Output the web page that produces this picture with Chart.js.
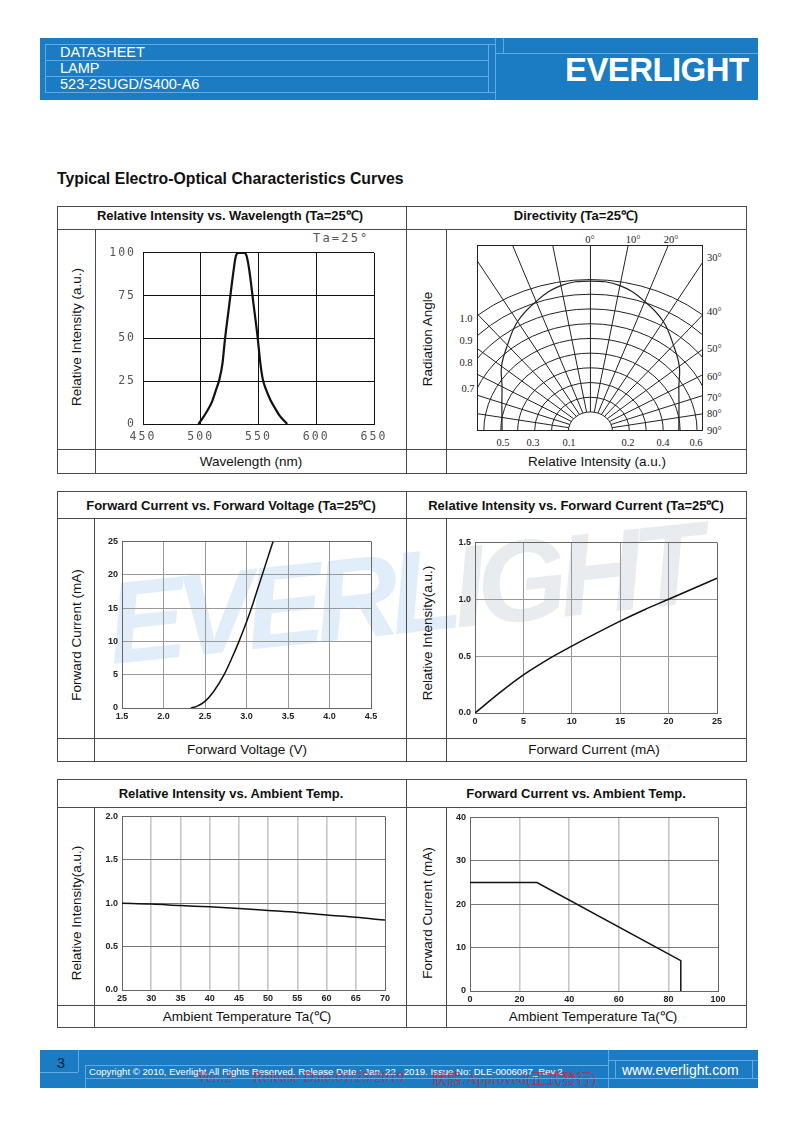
<!DOCTYPE html>
<html>
<head>
<meta charset="utf-8">
<title>523-2SUGD/S400-A6 - Typical Electro-Optical Characteristics Curves</title>
<script src="https://cdn.jsdelivr.net/npm/chart.js@4.4.1/dist/chart.umd.min.js"></script>
<style>
  html, body { margin: 0; padding: 0; background: #fff; }
  #page { position: relative; width: 794px; height: 1123px; overflow: hidden;
          font-family: "Liberation Sans", Arial, sans-serif; color: #111; }
  .t  { position: absolute; white-space: nowrap; transform: translate(-50%, -50%); }
  .l  { position: absolute; white-space: nowrap; transform: translateY(-50%); }
  .v  { position: absolute; white-space: nowrap; transform: translate(-50%, -50%) rotate(-90deg); font-size: 13.5px; }
  .h  { font-size: 13px; font-weight: bold; }
  .x  { font-size: 13.5px; }
  .d  { font-family: "Liberation Serif", serif; font-size: 10.5px; color: #222; }
  .ln { position: absolute; background: #4a4a4a; }
  .bl { position: absolute; background: #62aae0; }
  .band { position: absolute; background: #1b7cc4; }
  .box { position: absolute; }
  .wh { color: #fff; }
  .red { font-family: "Liberation Serif", "Noto Sans CJK TC", serif; font-size: 15px; color: rgba(196, 40, 64, 0.78); }
</style>
</head>
<body>
<div id="page">

  <!-- watermark -->
  <div id="wm" style="position:absolute;left:112px;top:566px;font-size:116px;font-weight:bold;font-style:italic;line-height:1;letter-spacing:-8px;transform-origin:0 98px;transform:rotate(-6deg);white-space:nowrap;">
    <span style="color:#e1edf8">EVERL</span><span style="color:#e9ecee">IGHT</span>
  </div>

  <!-- header -->
  <div class="band" style="left:40px;top:38px;width:718px;height:62px"></div>
  <div class="l wh" style="left:60px;top:52px;font-size:14.5px">DATASHEET</div>
  <div class="l wh" style="left:60px;top:68px;font-size:14.5px">LAMP</div>
  <div class="l wh" style="left:60px;top:84px;font-size:14.5px">523-2SUGD/S400-A6</div>
  <div class="l wh" style="left:565px;top:70px;font-size:33px;font-weight:bold;letter-spacing:-0.6px">EVERLIGHT</div>

  <div class="l" style="left:57px;top:179px;font-size:15.8px;font-weight:bold">Typical Electro-Optical Characteristics Curves</div>

  <!-- row 1 -->
  <div class="t h" style="left:230px;top:215px">Relative Intensity vs. Wavelength (Ta=25℃)</div>
  <div class="t h" style="left:576px;top:215px">Directivity (Ta=25℃)</div>
  <div class="v" style="left:76px;top:337px">Relative Intensity (a.u.)</div>
  <div class="v" style="left:427px;top:339px">Radiation Angle</div>
  <div class="t x" style="left:251px;top:461px">Wavelength (nm)</div>
  <div class="t x" style="left:597px;top:461px">Relative Intensity (a.u.)</div>
  <div class="l" style="left:313px;top:238px;font-family:'DejaVu Sans Mono',monospace;font-size:12px;letter-spacing:2.2px;color:#555">Ta=25°</div>

  <div class="box"><canvas id="cWave"></canvas></div>
  <div class="box"><canvas id="cDir"></canvas></div>

  <!-- directivity labels -->
  <div class="t d" style="left:590px;top:239px">0°</div>
  <div class="t d" style="left:633px;top:239px">10°</div>
  <div class="t d" style="left:671px;top:239px">20°</div>
  <div class="l d" style="left:707px;top:257px">30°</div>
  <div class="l d" style="left:707px;top:311px">40°</div>
  <div class="l d" style="left:707px;top:348px">50°</div>
  <div class="l d" style="left:707px;top:376px">60°</div>
  <div class="l d" style="left:707px;top:397px">70°</div>
  <div class="l d" style="left:707px;top:413px">80°</div>
  <div class="l d" style="left:707px;top:430px">90°</div>
  <div class="t d" style="left:466px;top:318px">1.0</div>
  <div class="t d" style="left:466px;top:340px">0.9</div>
  <div class="t d" style="left:466px;top:362px">0.8</div>
  <div class="t d" style="left:468px;top:388px">0.7</div>
  <div class="t d" style="left:503px;top:442px">0.5</div>
  <div class="t d" style="left:533px;top:442px">0.3</div>
  <div class="t d" style="left:569px;top:442px">0.1</div>
  <div class="t d" style="left:628px;top:442px">0.2</div>
  <div class="t d" style="left:663px;top:442px">0.4</div>
  <div class="t d" style="left:696px;top:442px">0.6</div>

  <!-- row 2 -->
  <div class="t h" style="left:231px;top:505px">Forward Current vs. Forward Voltage (Ta=25℃)</div>
  <div class="t h" style="left:576px;top:505px">Relative Intensity vs. Forward Current (Ta=25℃)</div>
  <div class="v" style="left:76px;top:635px">Forward Current (mA)</div>
  <div class="v" style="left:427px;top:633px">Relative Intensity(a.u.)</div>
  <div class="t x" style="left:247px;top:749px">Forward Voltage (V)</div>
  <div class="t x" style="left:594px;top:749px">Forward Current (mA)</div>
  <div class="box"><canvas id="cFV"></canvas></div>
  <div class="box"><canvas id="cRI"></canvas></div>

  <!-- row 3 -->
  <div class="t h" style="left:231px;top:793px">Relative Intensity vs. Ambient Temp.</div>
  <div class="t h" style="left:576px;top:793px">Forward Current vs. Ambient Temp.</div>
  <div class="v" style="left:76px;top:913px">Relative Intensity(a.u.)</div>
  <div class="v" style="left:427px;top:913px">Forward Current (mA)</div>
  <div class="t x" style="left:247px;top:1016px">Ambient Temperature Ta(℃)</div>
  <div class="t x" style="left:593px;top:1016px">Ambient Temperature Ta(℃)</div>
  <div class="box"><canvas id="cTa"></canvas></div>
  <div class="box"><canvas id="cIF"></canvas></div>

  <!-- footer -->
  <div class="band" style="left:40px;top:1050px;width:718px;height:38px"></div>
  <div class="t" style="left:61px;top:1062px;font-size:15px;color:#10223a">3</div>
  <div class="l wh" style="left:89px;top:1071px;font-size:9.6px">Copyright © 2010, Everlight All Rights Reserved. Release Date : Jan. 22 . 2019. Issue No: DLE-0006087_Rev.2</div>
  <div class="l red" style="left:197px;top:1077px">Ver.:2</div>
  <div class="l red" style="left:253px;top:1077px">Release Date:01/23/2019</div>
  <div class="l red" style="left:432px;top:1077px">狀態:Approved(正式發行)</div>
  <div class="l wh" style="left:622px;top:1070px;font-size:14px">www.everlight.com</div>
</div>

<script>
/* --------------------------
   DATA
-------------------------- */

// Relative intensity vs wavelength
const wlNm  = [498, 501.4, 505.8, 509.5, 513, 515.9, 518.8, 520.8, 524.6, 528.1, 530.4, 532.7, 537.7, 539.7, 542, 545.5, 549.3, 551.3, 553.6, 556.5, 560, 563.8, 568.1, 574.8];
const wlRel = [0, 3.2, 7.9, 12.6, 19.5, 25.5, 35.3, 48.5, 69.2, 88.1, 98.2, 100, 100, 98.2, 90, 71.1, 50.4, 37.2, 26.5, 20.2, 14.5, 9.8, 5.1, 0];
const wlTicksX = [450, 500, 550, 600, 650];
const wlTicksY = [0, 25, 50, 75, 100];

// Directivity (angle from axis, relative radius)
const dirAngles    = [-90, -80, -70, -60, -50, -40, -30, -20, -10, 0, 10, 20, 30, 40, 50, 60, 70, 80, 90];
const dirIntensity = [0.506, 0.515, 0.54, 0.585, 0.665, 0.74, 0.835, 0.91, 0.975, 0.99, 0.975, 0.91, 0.835, 0.74, 0.665, 0.585, 0.54, 0.515, 0.506];
const dirRings  = [0.126, 0.223, 0.32, 0.417, 0.514, 0.611, 0.708, 0.806, 0.903, 1.0];
const dirSpokes = [-90, -80, -70, -60, -50, -40, -30, -20, -10, 0, 10, 20, 30, 40, 50, 60, 70, 80, 90];

// Forward current vs forward voltage
const fvVolt = [2.33, 2.40, 2.50, 2.60, 2.73, 2.82, 2.91, 3.00, 3.06, 3.13, 3.19, 3.255, 3.32];
const fvCurr = [0, 0.25, 1.0, 2.4, 5, 7.4, 10, 12.9, 15, 17.7, 20, 22.5, 25];
const fvTicksX = [1.5, 2.0, 2.5, 3.0, 3.5, 4.0, 4.5];
const fvTicksY = [0, 5, 10, 15, 20, 25];

// Relative intensity vs forward current
const riCurr = [0, 2.5, 5, 7.5, 10, 12.5, 15, 17.5, 20, 22.5, 25];
const riRel  = [0, 0.175, 0.335, 0.47, 0.588, 0.70, 0.808, 0.908, 1.0, 1.093, 1.185];
const riTicksX = [0, 5, 10, 15, 20, 25];
const riTicksY = [0, 0.5, 1.0, 1.5];

// Relative intensity vs ambient temperature
const taTemp = [25, 30, 35, 40, 45, 50, 55, 60, 65, 70];
const taRel  = [1.0, 0.99, 0.973, 0.958, 0.94, 0.917, 0.894, 0.864, 0.838, 0.805];
const taTicksX = [25, 30, 35, 40, 45, 50, 55, 60, 65, 70];
const taTicksY = [0, 0.5, 1.0, 1.5, 2.0];

// Forward current derating vs ambient temperature
const ifTemp = [0, 27, 85, 85];
const ifCurr = [25, 25, 7, 0];
const ifTicksX = [0, 20, 40, 60, 80, 100];
const ifTicksY = [0, 10, 20, 30, 40];

/* --------------------------
   TABLE + HEADER LINES
-------------------------- */
const page = document.getElementById("page");

function line(cls, x, y, w, h) {
    const d = document.createElement("div");
    d.className = cls;
    d.style.left = x + "px";
    d.style.top = y + "px";
    d.style.width = w + "px";
    d.style.height = h + "px";
    page.appendChild(d);
}
const hl = (x1, x2, y, c) => line(c || "ln", x1, y, x2 - x1, 1);
const vl = (x, y1, y2, c) => line(c || "ln", x, y1, 1, y2 - y1);

function tableRow(top, sep, labelSep, bottom, innerL, innerR) {
    [top, sep, labelSep, bottom].forEach(y => hl(57, 747, y));
    vl(57, top, bottom + 1);
    vl(406, top, bottom + 1);
    vl(746, top, bottom + 1);
    vl(innerL, sep, bottom);
    vl(innerR, sep, bottom);
}
tableRow(206, 229, 449, 473, 95, 446);
tableRow(491, 518, 738, 761, 94, 446);
tableRow(779, 807, 1005, 1027, 94, 446);

// header / footer inner lines
hl(45, 495, 44, "bl"); hl(45, 488, 60, "bl"); hl(45, 488, 76, "bl"); hl(45, 495, 92, "bl");
vl(45, 44, 92, "bl"); vl(488, 44, 92, "bl"); vl(495, 38, 100, "bl");
hl(495, 758, 53, "bl"); vl(503, 38, 53, "bl");

vl(78, 1050, 1072, "bl"); hl(40, 78, 1072, "bl");
vl(85, 1065, 1088, "bl"); hl(85, 608, 1065, "bl"); hl(85, 608, 1078, "bl");
vl(608, 1050, 1088, "bl"); vl(615, 1060, 1078, "bl"); vl(752, 1060, 1078, "bl");
hl(608, 758, 1060, "bl"); hl(608, 758, 1078, "bl");

/* --------------------------
   CHART HELPERS
-------------------------- */
Chart.defaults.font.family = "'Liberation Sans', Arial, sans-serif";

const pts = (xs, ys) => xs.map((x, i) => ({ x: x, y: ys[i] }));

// put the canvas so that the plot area lands on L,T,R,B
function place(id, L, T, R, B, yw, xh, pt, pr) {
    const box = document.getElementById(id).parentNode;
    box.style.left = (L - yw) + "px";
    box.style.top = (T - pt) + "px";
    box.style.width = (R - L + yw + pr) + "px";
    box.style.height = (B - T + pt + xh) + "px";
}

// wide spaced tick text for the wavelength plot
const spacedText = {
    id: "spacedText",
    beforeDraw(chart, args, opts) { chart.ctx.letterSpacing = opts.spacing || "0px"; },
    afterDraw(chart) { chart.ctx.letterSpacing = "0px"; }
};

function axis(ticks, o, horizontal) {
    const first = ticks[0], last = ticks[ticks.length - 1];
    const isEdge = c => c.tick && (Math.abs(c.tick.value - first) < 1e-9 || Math.abs(c.tick.value - last) < 1e-9);
    return {
        type: "linear",
        min: first,
        max: last,
        afterBuildTicks: s => { s.ticks = ticks.map(v => ({ value: v })); },
        afterFit: s => {
            if (horizontal) s.height = o.xh; else s.width = o.yw;
        },
        ticks: {
            autoSkip: false,
            maxRotation: 0,
            padding: horizontal ? o.xpad : o.ypad,
            color: o.tickColor,
            font: o.font,
            callback: v => v.toFixed(horizontal ? o.xdec : o.ydec)
        },
        grid: {
            drawTicks: false,
            color: c => isEdge(c) ? o.edge : (horizontal ? o.vgrid : o.hgrid),
            lineWidth: c => isEdge(c) ? 1 : (horizontal ? o.vgridW : 1)
        },
        border: { display: true, color: o.edge, width: 1 }
    };
}

function curveChart(id, xs, ys, tx, ty, o) {
    place(id, o.L, o.T, o.R, o.B, o.yw, o.xh, o.pt, o.pr);
    return new Chart(document.getElementById(id), {
        type: "scatter",
        data: {
            datasets: [{
                data: pts(xs, ys),
                showLine: true,
                borderColor: o.lineColor || "#111",
                borderWidth: o.lw,
                pointRadius: 0,
                cubicInterpolationMode: o.smooth ? "monotone" : "default",
                tension: 0
            }]
        },
        options: {
            responsive: true,
            maintainAspectRatio: false,
            animation: false,
            layout: { padding: { top: o.pt, right: o.pr, left: 0, bottom: 0 } },
            plugins: {
                legend: { display: false },
                tooltip: { enabled: false },
                spacedText: { spacing: o.spacing || "0px" }
            },
            scales: {
                x: axis(tx, o, true),
                y: axis(ty, o, false)
            }
        },
        plugins: [spacedText]
    });
}

const boldTicks = {
    yw: 30, xh: 16, pt: 6, pr: 12, xpad: 3, ypad: 4,
    tickColor: "#222", font: { size: 9, weight: "bold" },
    edge: "#666", lw: 1.5, smooth: true
};

/* --------------------------
   ROW 1 : WAVELENGTH
-------------------------- */
curveChart("cWave", wlNm, wlRel, wlTicksX, wlTicksY, {
    L: 143, T: 247, R: 374, B: 424,
    yw: 40, xh: 24, pt: 8, pr: 20, xpad: 6, ypad: 7, xdec: 0, ydec: 0,
    tickColor: "#555", font: { family: "'DejaVu Sans Mono', monospace", size: 11.5 },
    spacing: "2px",
    edge: "#111", hgrid: "#111", vgrid: "#111", vgridW: 1,
    lw: 2.2, smooth: true
});

/* --------------------------
   ROW 1 : DIRECTIVITY
-------------------------- */
const dirGrid = {
    id: "dirGrid",
    beforeDatasetsDraw(chart) {
        const { ctx, chartArea: a, scales: { x, y } } = chart;
        const cx = x.getPixelForValue(0), cy = y.getPixelForValue(0);
        const px = (r, deg) => x.getPixelForValue(r * Math.sin(deg * Math.PI / 180));
        const py = (r, deg) => y.getPixelForValue(r * Math.cos(deg * Math.PI / 180));
        ctx.save();
        ctx.beginPath();
        ctx.rect(a.left, a.top, a.width, a.height);
        ctx.clip();
        ctx.strokeStyle = "#222";
        ctx.lineWidth = 1;
        dirRings.forEach(r => {
            ctx.beginPath();
            ctx.ellipse(cx, cy, x.getPixelForValue(r) - cx, cy - y.getPixelForValue(r), 0, Math.PI, 2 * Math.PI);
            ctx.stroke();
        });
        dirSpokes.forEach(deg => {
            ctx.beginPath();
            ctx.moveTo(px(dirRings[0], deg), py(dirRings[0], deg));
            ctx.lineTo(px(3, deg), py(3, deg));
            ctx.stroke();
        });
        ctx.strokeRect(a.left + 0.5, a.top + 0.5, a.width - 1, a.height - 1);
        ctx.restore();
    }
};

place("cDir", 477, 245, 703, 431, 0, 0, 0, 0);
new Chart(document.getElementById("cDir"), {
    type: "scatter",
    data: {
        datasets: [{
            data: dirAngles.map((deg, i) => ({
                x: dirIntensity[i] * Math.sin(deg * Math.PI / 180),
                y: dirIntensity[i] * Math.cos(deg * Math.PI / 180)
            })),
            showLine: true,
            tension: 0.4,
            borderColor: "#222",
            borderWidth: 1.2,
            pointRadius: 0
        }]
    },
    options: {
        responsive: true,
        maintainAspectRatio: false,
        animation: false,
        layout: { padding: 0 },
        plugins: { legend: { display: false }, tooltip: { enabled: false } },
        scales: {
            x: { type: "linear", min: -0.65, max: 0.645, display: false },
            y: { type: "linear", min: 0, max: 1.228, display: false }
        }
    },
    plugins: [dirGrid]
});

/* --------------------------
   ROW 2
-------------------------- */
curveChart("cFV", fvVolt, fvCurr, fvTicksX, fvTicksY, Object.assign({}, boldTicks, {
    L: 122, T: 538, R: 371, B: 708, xdec: 1, ydec: 0,
    hgrid: "#999", vgrid: "#999", vgridW: 1
}));

curveChart("cRI", riCurr, riRel, riTicksX, riTicksY, Object.assign({}, boldTicks, {
    L: 475, T: 539, R: 717, B: 713, xdec: 0, ydec: 1,
    hgrid: "#999", vgrid: "#999", vgridW: 1
}));

/* --------------------------
   ROW 3
-------------------------- */
curveChart("cTa", taTemp, taRel, taTicksX, taTicksY, Object.assign({}, boldTicks, {
    L: 122, T: 813, R: 385, B: 990, xdec: 0, ydec: 1,
    hgrid: "#777", vgrid: "#c6c6c6", vgridW: 1.6
}));

curveChart("cIF", ifTemp, ifCurr, ifTicksX, ifTicksY, Object.assign({}, boldTicks, {
    L: 470, T: 814, R: 718, B: 991, xdec: 0, ydec: 0,
    hgrid: "#777", vgrid: "#c6c6c6", vgridW: 1.6, smooth: false
}));
</script>
</body>
</html>
